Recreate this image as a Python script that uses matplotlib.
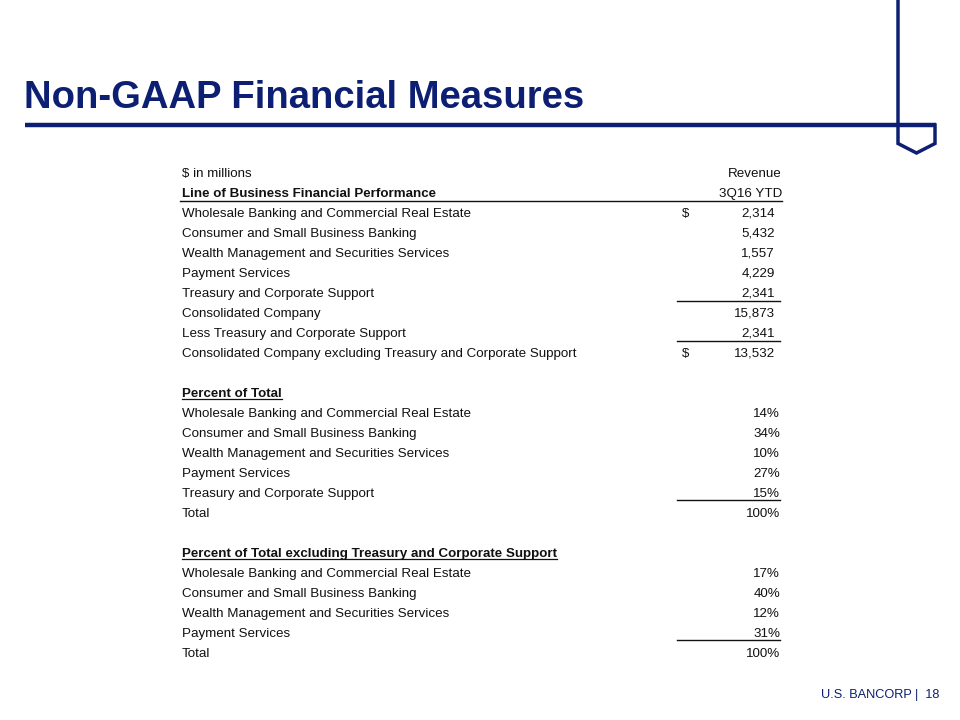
import matplotlib
matplotlib.use("Agg")
import matplotlib.pyplot as plt

plt.rcParams['font.family'] = ['Liberation Sans', 'DejaVu Sans']

NAVY = "#0c1f72"
TXT = "#111111"

title = "Non-GAAP Financial Measures"
unit_label = "$ in millions"
col_header_1 = "Revenue"
col_header_2 = "3Q16 YTD"
section1_title = "Line of Business Financial Performance"
section1_labels = ["Wholesale Banking and Commercial Real Estate",
                   "Consumer and Small Business Banking",
                   "Wealth Management and Securities Services",
                   "Payment Services",
                   "Treasury and Corporate Support",
                   "Consolidated Company",
                   "Less Treasury and Corporate Support",
                   "Consolidated Company excluding Treasury and Corporate Support"]
section1_values = [2314, 5432, 1557, 4229, 2341, 15873, 2341, 13532]
section2_title = "Percent of Total"
section2_labels = ["Wholesale Banking and Commercial Real Estate",
                   "Consumer and Small Business Banking",
                   "Wealth Management and Securities Services",
                   "Payment Services",
                   "Treasury and Corporate Support",
                   "Total"]
section2_values = [14, 34, 10, 27, 15, 100]
section3_title = "Percent of Total excluding Treasury and Corporate Support"
section3_labels = ["Wholesale Banking and Commercial Real Estate",
                   "Consumer and Small Business Banking",
                   "Wealth Management and Securities Services",
                   "Payment Services",
                   "Total"]
section3_values = [17, 40, 12, 31, 100]
footer = "U.S. BANCORP |  18"

fig = plt.figure(figsize=(9.6, 7.2), dpi=100)
ax = fig.add_axes([0, 0, 1, 1])
ax.set_xlim(0, 960)
ax.set_ylim(720, 0)
ax.axis('off')

# Title and decorations
ax.text(24, 108, title, fontsize=27.5, fontweight='bold', color=NAVY, va='baseline', ha='left')
ax.plot([25, 936], [125, 125], color=NAVY, lw=3.2, solid_capstyle='butt')
ax.plot([898, 898, 916.5, 935, 935, 933], [0, 143.5, 153, 143.5, 125, 125], color=NAVY, lw=2.5,
        solid_joinstyle='miter')

FS = 9.6
LX = 182
VX = 775
PX = 780
DX = 686
RH = 20
Y0 = 172
BL = 5  # baseline offset

def ry(i):
    return Y0 + RH * i + BL

renderer = fig.canvas.get_renderer()

def underline(t):
    bb = t.get_window_extent(renderer=renderer)
    inv = ax.transData.inverted()
    (x0, y0), (x1, y1) = inv.transform([[bb.x0, bb.y0], [bb.x1, bb.y1]])
    return x0, x1

def fmt_money(v):
    return f"{v:,}"

# header rows
ax.text(LX, ry(0), unit_label, fontsize=FS, color=TXT, va='baseline')
ax.text(782, ry(0), col_header_1, fontsize=FS, color=TXT, va='baseline', ha='right')
ax.text(LX, ry(1), section1_title, fontsize=FS, fontweight='bold', color=TXT, va='baseline')
ax.text(782, ry(1), col_header_2, fontsize=FS, color=TXT, va='baseline', ha='right')
ax.plot([180, 782], [201, 201], color=TXT, lw=1.0)

# section 1
for k, (lab, val) in enumerate(zip(section1_labels, section1_values)):
    i = 2 + k
    ax.text(LX, ry(i), lab, fontsize=FS, color=TXT, va='baseline')
    ax.text(VX, ry(i), fmt_money(val), fontsize=FS, color=TXT, va='baseline', ha='right')
    if k == 0 or k == len(section1_values) - 1:
        ax.text(DX, ry(i), "$", fontsize=FS, color=TXT, va='baseline', ha='center')
for k in (4, 6):
    yl = Y0 + RH * (2 + k) + 8.5
    ax.plot([677, 780], [yl, yl], color=TXT, lw=1.0)

# section 2
i0 = 11
t = ax.text(LX, ry(i0), section2_title, fontsize=FS, fontweight='bold', color=TXT, va='baseline')
x0, x1 = underline(t)
ax.plot([x0, x1], [ry(i0) + 2, ry(i0) + 2], color=TXT, lw=0.9)
for k, (lab, val) in enumerate(zip(section2_labels, section2_values)):
    i = i0 + 1 + k
    ax.text(LX, ry(i), lab, fontsize=FS, color=TXT, va='baseline')
    ax.text(PX, ry(i), f"{val}%", fontsize=FS, color=TXT, va='baseline', ha='right')
yl = Y0 + RH * (i0 + len(section2_values) - 1) + 8
ax.plot([677, 780], [yl, yl], color=TXT, lw=1.0)

# section 3
i0 = 19
t = ax.text(LX, ry(i0), section3_title, fontsize=FS, fontweight='bold', color=TXT, va='baseline')
x0, x1 = underline(t)
ax.plot([x0, x1], [ry(i0) + 2, ry(i0) + 2], color=TXT, lw=0.9)
for k, (lab, val) in enumerate(zip(section3_labels, section3_values)):
    i = i0 + 1 + k
    ax.text(LX, ry(i), lab, fontsize=FS, color=TXT, va='baseline')
    ax.text(PX, ry(i), f"{val}%", fontsize=FS, color=TXT, va='baseline', ha='right')
yl = Y0 + RH * (i0 + len(section3_values) - 1) + 8
ax.plot([677, 780], [yl, yl], color=TXT, lw=1.0)

# footer
ax.text(939, 698, footer, fontsize=9.2, color=NAVY, va='baseline', ha='right')

fig.savefig("out.png", dpi=100)
